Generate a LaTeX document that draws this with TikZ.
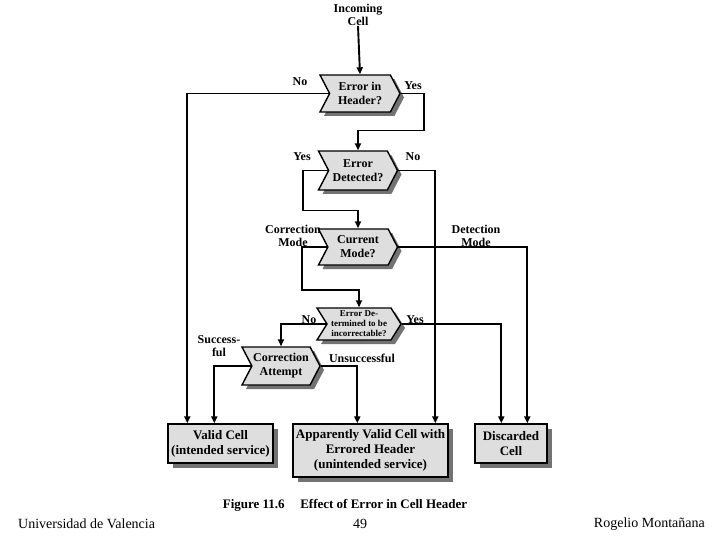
\documentclass[tikz,border=0pt]{standalone}
\usepackage{fontspec}
\setmainfont{Liberation Serif}
\usetikzlibrary{shapes.symbols,shadows,arrows.meta}
\begin{document}
\begin{tikzpicture}[x=1pt,y=-1pt,
  hexa/.style={signal, signal from=west, signal to=east, signal pointer angle=125,
    draw=black, line width=1.4pt, fill=black!13, inner sep=0pt, align=center,
    font=\bfseries\fontsize{12}{14}\selectfont,
    drop shadow={shadow xshift=4pt, shadow yshift=-4pt, fill=black!55, opacity=1}},
  cbox/.style={draw=black, line width=1.4pt, fill=black!13, inner sep=0pt, align=center,
    font=\bfseries\fontsize{13}{15}\selectfont,
    drop shadow={shadow xshift=5pt, shadow yshift=-5pt, fill=black!55, opacity=1}},
  lbl/.style={font=\bfseries\fontsize{12}{13}\selectfont, align=center, inner sep=0pt},
  conn/.style={draw=black, line width=1.9pt},
  arr/.style={conn, -{Triangle[length=7pt,width=6pt]}}
]
\fill[white] (0,0) rectangle (720,540);
\useasboundingbox (0,0) rectangle (720,540);

% decision nodes
\node[lbl] (inc) at (358,15) {Incoming\\Cell};
\node[hexa, minimum width=80pt, minimum height=37pt] (h1) at (360,93.5) {Error in\\Header?};
\node[hexa, minimum width=79pt, minimum height=39pt] (h2) at (358,170.5) {Error\\Detected?};
\node[hexa, minimum width=79pt, minimum height=36pt] (h3) at (358,247) {Current\\Mode?};
\node[hexa, minimum width=84pt, minimum height=32pt, signal pointer angle=116,
      font=\bfseries\fontsize{9}{10}\selectfont] (h4) at (359,324) {Error De-\\termined to be\\incorrectable?};
\node[hexa, minimum width=78pt, minimum height=38pt] (h5) at (281,366) {Correction\\Attempt};

% outcome boxes
\node[cbox, minimum width=105pt, minimum height=39pt] (valid) at (220.5,443.5) {Valid Cell\\(intended service)};
\node[cbox, minimum width=155pt, minimum height=53pt] (app) at (370.5,450.5) {Apparently Valid Cell with\\Errored Header\\(unintended service)};
\node[cbox, minimum width=72pt, minimum height=39pt] (disc) at (511,443.5) {Discarded\\Cell};

% connectors
\draw[arr] (inc.south) -- (h1.north);
\draw[arr] (h1.west) -| ([xshift=20pt]valid.north west);
\draw[arr] (h1.east) -- ++(23,0) -- ++(0,37) -| (h2.north);
\draw[arr] (h2.west) -- ++(-25,0) -- ++(0,40) -| (h3.north);
\draw[arr] (h2.east) -| ([xshift=143pt]app.north west);
\draw[arr] (h3.east) -| ([xshift=53pt]disc.north west);
\draw[arr] (h3.west) -- ++(-25,0) -- ++(0,43) -| (h4.north);
\draw[arr] (h4.west) -| (h5.north);
\draw[arr] (h4.east) -| ([xshift=27pt]disc.north west);
\draw[arr] (h5.west) -| ([xshift=47pt]valid.north west);
\draw[arr] (h5.east) -| ([xshift=65pt]app.north west);

% branch labels
\node[lbl] (l1n) at (300,82) {No};
\node[lbl] (l1y) at (413,86) {Yes};
\node[lbl] (l2y) at (302,157) {Yes};
\node[lbl] (l2n) at (413,157) {No};
\node[lbl] (l3c) at (293,236) {Correction\\Mode};
\node[lbl] (l3d) at (476,236) {Detection\\Mode};
\node[lbl] (l4n) at (309,320) {No};
\node[lbl] (l4y) at (415,320) {Yes};
\node[lbl] (l5s) at (219,346) {Success-\\ful};
\node[lbl] (l5u) at (362,358) {Unsuccessful};

% caption and footer
\node[font=\bfseries\fontsize{13}{15}\selectfont, inner sep=0pt] (cap) at (345,505) {Figure 11.6\hspace{1.2em}Effect of Error in Cell Header};
\node[font=\fontsize{14}{16}\selectfont, inner sep=0pt, anchor=west] (f1) at (18,524) {Universidad de Valencia};
\node[font=\fontsize{14}{16}\selectfont, inner sep=0pt] (f2) at (360,524) {49};
\node[font=\fontsize{14}{16}\selectfont, inner sep=0pt, anchor=east] (f3) at (705,524) {Rogelio Montañana};
\end{tikzpicture}
\end{document}
